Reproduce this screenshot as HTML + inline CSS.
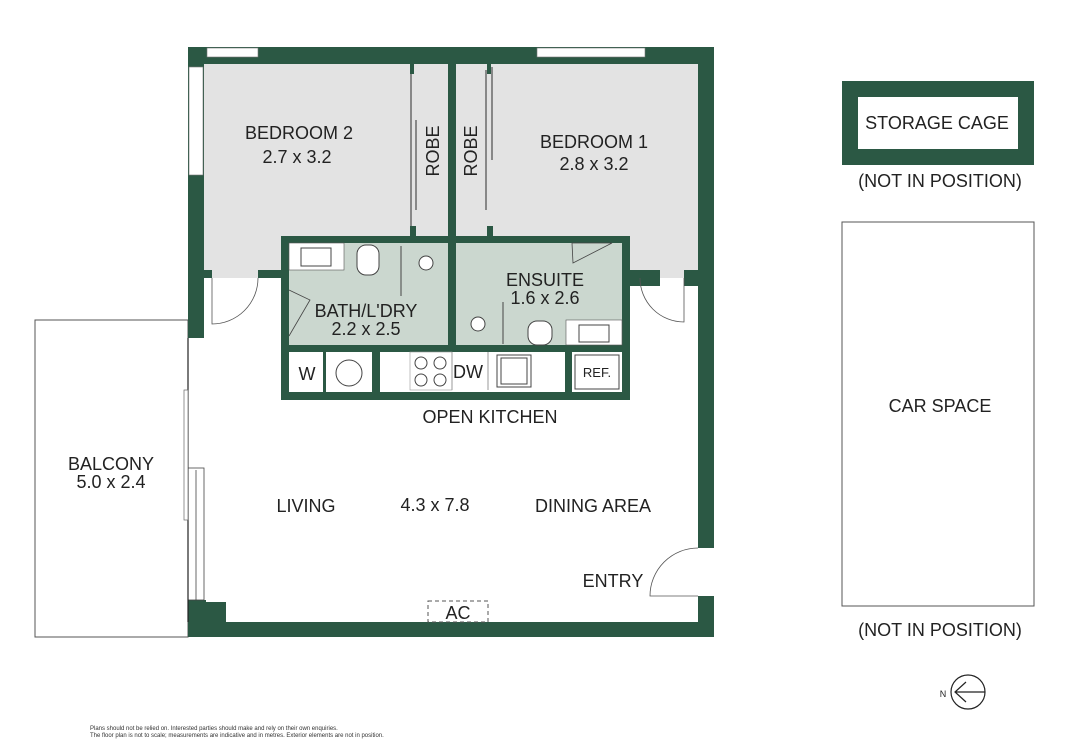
<!DOCTYPE html>
<html><head><meta charset="utf-8"><style>
html,body{margin:0;padding:0;background:#fff;}
svg{display:block;font-family:"Liberation Sans",sans-serif;}
</style></head><body>
<svg width="1066" height="755" viewBox="0 0 1066 755" xmlns="http://www.w3.org/2000/svg">
<defs><style>.w{fill:#2b5844}.t{fill:#222;font-size:18px;text-anchor:middle}.s{fill:#222;font-size:14px;text-anchor:middle}</style></defs>
<rect x="35" y="320" width="153" height="317" fill="#fff" stroke="#555" stroke-width="1"/>
<rect x="204" y="64" width="244" height="214" fill="#e3e3e3"/>
<rect x="456" y="64" width="242" height="214" fill="#e3e3e3"/>
<rect x="281" y="236" width="349" height="164" class="w"/>
<rect x="289" y="243" width="159" height="102" fill="#cbd7cf"/>
<rect x="456" y="243" width="166" height="102" fill="#cbd7cf"/>
<rect x="289" y="243" width="55" height="27" fill="#fff" stroke="#555" stroke-width=".6"/>
<rect x="301" y="248" width="30" height="18" fill="#fff" stroke="#444"/>
<rect x="357" y="245" width="22" height="30" rx="9" fill="#fff" stroke="#444"/>
<circle cx="426" cy="263" r="7" fill="#fff" stroke="#444"/>
<line x1="401" y1="246" x2="401" y2="296" stroke="#444"/>
<rect x="566" y="320" width="56" height="25" fill="#fff" stroke="#555" stroke-width=".6"/>
<rect x="579" y="325" width="30" height="17" fill="#fff" stroke="#444"/>
<rect x="528" y="321" width="24" height="24" rx="9" fill="#fff" stroke="#444"/>
<circle cx="478" cy="324" r="7" fill="#fff" stroke="#444"/>
<line x1="503" y1="302" x2="503" y2="344" stroke="#444"/>
<path d="M572 243 L612 243 L573 263 Z" fill="#cbd7cf" stroke="#444" stroke-width=".8"/>
<path d="M289 290 L310 300 L289 336" fill="none" stroke="#444" stroke-width=".8"/>
<rect x="289" y="352" width="34" height="40" fill="#fff"/>
<rect x="326" y="352" width="46" height="40" fill="#fff"/>
<circle cx="349" cy="373" r="13" fill="#fff" stroke="#444"/>
<rect x="380" y="352" width="185" height="40" fill="#fff"/>
<rect x="572" y="352" width="50" height="40" fill="#fff"/>
<rect x="575" y="355" width="44" height="34" fill="#fff" stroke="#444"/>
<rect x="410" y="352" width="42" height="38" fill="#fff" stroke="#999" stroke-width=".6"/>
<circle cx="421" cy="363" r="6" fill="#fff" stroke="#444"/><circle cx="440" cy="363" r="6" fill="#fff" stroke="#444"/>
<circle cx="421" cy="380" r="6" fill="#fff" stroke="#444"/><circle cx="440" cy="380" r="6" fill="#fff" stroke="#444"/>
<rect x="497" y="355" width="34" height="32" fill="#fff" stroke="#444"/>
<rect x="501" y="358" width="26" height="26" fill="#fff" stroke="#444"/>
<line x1="452" y1="352" x2="452" y2="390" stroke="#999"/><line x1="488" y1="352" x2="488" y2="390" stroke="#999"/>
<rect x="188" y="47" width="526" height="17" class="w"/>
<rect x="207" y="48" width="51" height="9" fill="#fff" stroke="#777" stroke-width=".6"/>
<rect x="537" y="48" width="108" height="9" fill="#fff" stroke="#777" stroke-width=".6"/>
<rect x="188" y="47" width="16" height="291" class="w"/>
<rect x="189" y="67" width="14" height="108" fill="#fff" stroke="#777" stroke-width=".6"/>
<rect x="448" y="64" width="8" height="179" class="w"/>
<rect x="698" y="47" width="16" height="501" class="w"/>
<rect x="698" y="596" width="16" height="41" class="w"/>
<rect x="188" y="622" width="526" height="15" class="w"/>
<rect x="188" y="600" width="18" height="22" class="w"/><rect x="206" y="602" width="20" height="20" class="w"/>
<rect x="188" y="468" width="16" height="132" fill="#fff" stroke="#444" stroke-width=".8"/>
<line x1="196" y1="470" x2="196" y2="600" stroke="#444" stroke-width=".8"/>
<line x1="188" y1="338" x2="188" y2="622" stroke="#222" stroke-width="1.2"/>
<rect x="184" y="390" width="4" height="130" fill="#fff" stroke="#666" stroke-width=".7"/>
<rect x="204" y="270" width="8" height="8" class="w"/><rect x="258" y="270" width="23" height="8" class="w"/>
<rect x="630" y="270" width="30" height="16" class="w"/><rect x="684" y="270" width="14" height="16" class="w"/>
<path d="M212 278 L212 324 A46 46 0 0 0 258 278" fill="none" stroke="#555" stroke-width=".8"/>
<path d="M684 278 L684 322 A44 44 0 0 1 640 278" fill="none" stroke="#555" stroke-width=".8"/>
<path d="M698 548 A48 48 0 0 0 650 596 L698 596" fill="#fff" stroke="#555" stroke-width=".8"/>
<line x1="411" y1="67" x2="411" y2="230" stroke="#888" stroke-width="2"/>
<line x1="416" y1="120" x2="416" y2="210" stroke="#888" stroke-width="2"/>
<line x1="486" y1="70" x2="486" y2="210" stroke="#888" stroke-width="2"/>
<line x1="492" y1="67" x2="492" y2="160" stroke="#888" stroke-width="2"/>
<rect x="410" y="64" width="4" height="10" class="w"/><rect x="487" y="64" width="4" height="10" class="w"/>
<rect x="410" y="226" width="6" height="10" class="w"/><rect x="487" y="226" width="6" height="10" class="w"/>
<rect x="428" y="601" width="60" height="21" fill="none" stroke="#555" stroke-dasharray="4 3"/>
<text class="t" x="299" y="139">BEDROOM 2</text><text class="t" x="297" y="163">2.7 x 3.2</text>
<text class="t" x="594" y="148">BEDROOM 1</text><text class="t" x="594" y="170">2.8 x 3.2</text>
<text class="t" transform="translate(439,151) rotate(-90)">ROBE</text>
<text class="t" transform="translate(477,151) rotate(-90)">ROBE</text>
<text class="t" x="366" y="317">BATH/L'DRY</text><text class="t" x="366" y="335">2.2 x 2.5</text>
<text class="t" x="545" y="286">ENSUITE</text><text class="t" x="545" y="304">1.6 x 2.6</text>
<text class="t" x="307" y="380">W</text><text class="t" x="468" y="378">DW</text>
<text class="s" x="597" y="377" style="font-size:13px">REF.</text>
<text class="t" x="490" y="423">OPEN KITCHEN</text>
<text class="t" x="306" y="512">LIVING</text><text class="t" x="435" y="511">4.3 x 7.8</text>
<text class="t" x="593" y="512">DINING AREA</text>
<text class="t" x="613" y="587">ENTRY</text>
<text class="t" x="458" y="619">AC</text>
<text class="t" x="111" y="470">BALCONY</text><text class="t" x="111" y="488">5.0 x 2.4</text>
<rect x="842" y="81" width="192" height="84" class="w"/>
<rect x="858" y="97" width="160" height="52" fill="#fff"/>
<text class="t" x="937" y="129">STORAGE CAGE</text>
<text class="t" x="940" y="187">(NOT IN POSITION)</text>
<rect x="842" y="222" width="192" height="384" fill="#fff" stroke="#555"/>
<text class="t" x="940" y="412">CAR SPACE</text>
<text class="t" x="940" y="636">(NOT IN POSITION)</text>
<circle cx="968" cy="692" r="17" fill="none" stroke="#222" stroke-width="1.2"/>
<path d="M985 692 L955 692 M966 682 L955 692 L966 702" fill="none" stroke="#222" stroke-width="1.2"/>
<text x="943" y="697" style="font-size:9px" fill="#222" text-anchor="middle">N</text>
<text x="90" y="730" style="font-size:6px" fill="#333">Plans should not be relied on. Interested parties should make and rely on their own enquiries.</text>
<text x="90" y="737" style="font-size:6px" fill="#333">The floor plan is not to scale; measurements are indicative and in metres. Exterior elements are not in position.</text>
</svg>
</body></html>
